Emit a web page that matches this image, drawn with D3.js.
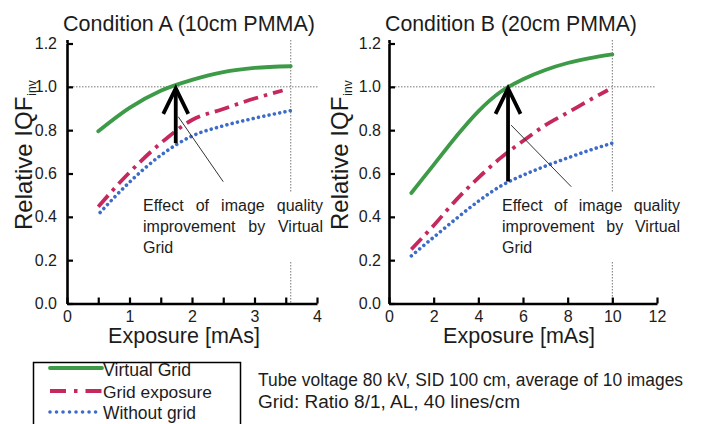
<!DOCTYPE html>
<html>
<head>
<meta charset="utf-8">
<script src="https://cdn.jsdelivr.net/npm/d3@7"></script>
<style>
  body { margin: 0; background: #fff; }
  svg { display: block; }
  text { font-family: "Liberation Sans", Arial, Helvetica, sans-serif; fill: #1c1c1c; }
</style>
</head>
<body>
<svg id="chart" width="701" height="424"></svg>
<script>
// ---- Condition A: 10 cm PMMA ----
const virtualGridExpA  = [0.5, 1.0, 1.5, 2.0, 2.5, 3.0, 3.58];
const virtualGridA     = [0.795, 0.903, 0.982, 1.032, 1.068, 1.087, 1.095];
const gridExposureExpA = [0.5, 1.0, 1.5, 2.0, 2.5, 3.0, 3.45];
const gridExposureA    = [0.447, 0.605, 0.74, 0.847, 0.898, 0.946, 0.983];
const withoutGridExpA  = [0.53, 1.0, 1.5, 2.0, 2.5, 3.0, 3.58];
const withoutGridA     = [0.42, 0.56, 0.684, 0.773, 0.82, 0.855, 0.89];

// ---- Condition B: 20 cm PMMA ----
const virtualGridExpB  = [1, 2, 3, 4, 5, 6, 7, 8, 9, 10];
const virtualGridB     = [0.51, 0.64, 0.77, 0.887, 0.977, 1.035, 1.078, 1.11, 1.133, 1.15];
const gridExposureExpB = [1, 2, 3, 4, 5, 6, 7, 8, 9, 9.8];
const gridExposureB    = [0.25, 0.36, 0.477, 0.58, 0.672, 0.75, 0.823, 0.881, 0.94, 0.985];
const withoutGridExpB  = [1, 2, 3, 4, 5, 6, 7, 8, 9, 10];
const withoutGridB     = [0.22, 0.306, 0.391, 0.472, 0.542, 0.592, 0.634, 0.672, 0.708, 0.74];

// Reference level (IQF of grid exposure at full dose) and the full-dose exposure
const referenceLevel    = 1.0;
const referenceExposure = [3.58, 10];

// Improvement arrows: exposure, start value (without grid), end value (virtual grid)
const arrowExposure = [1.74, 5.33];
const arrowFrom     = [0.74, 0.563];
const arrowTo       = [1.0, 1.0];

// Axis ticks
const yTicks        = [0, 0.2, 0.4, 0.6, 0.8, 1.0, 1.2];
const xTickMarksA   = [0, 0.5, 1, 1.5, 2, 2.5, 3, 3.5, 4];
const xTickLabelsA  = [0, 1, 2, 3, 4];
const xTickMarksB   = [0, 2, 4, 6, 8, 10, 12];
const xTickLabelsB  = [0, 2, 4, 6, 8, 10, 12];

// Texts
const panelTitles  = ["Condition A (10cm PMMA)", "Condition B (20cm PMMA)"];
const seriesNames  = ["Virtual Grid", "Grid exposure", "Without grid"];
const xAxisTitle   = "Exposure [mAs]";
const yAxisTitle   = "Relative IQF";
const yAxisSub     = "inv";
const annotationLines = [["Effect", "of", "image", "quality"], ["improvement", "by", "Virtual"], ["Grid"]];
const noteLines    = ["Tube voltage 80 kV, SID 100 cm, average of 10 images", "Grid: Ratio 8/1, AL, 40 lines/cm"];

const colors = { virtual: "#3d9a47", grid: "#c4285f", none: "#3d6cc8" };

const svg = d3.select("#chart");

// Scale a text element's font size so that it spans the given width
function fitWidth(sel, width) {
  const node = sel.node();
  const fs = parseFloat(sel.attr("font-size"));
  const w = node.getComputedTextLength();
  sel.attr("font-size", (fs * width / w).toFixed(2));
}

const panels = [
  {
    xDomain: [0, 4], xRange: [67, 317], tickMarks: xTickMarksA, tickLabels: xTickLabelsA,
    series: [
      { x: virtualGridExpA, y: virtualGridA, key: "virtual" },
      { x: gridExposureExpA, y: gridExposureA, key: "grid" },
      { x: withoutGridExpA, y: withoutGridA, key: "none" }
    ],
    title: panelTitles[0], titleX: 189, xLabelX: 184, yLabelX: 32, yTickPad: 10,
    refExposure: referenceExposure[0], hLineEnd: 318,
    textX: 143, textW: 180, leader: [[1.78, 0.862], [2.5, 0.562]], arrow: 0
  },
  {
    xDomain: [0, 12], xRange: [389, 657], tickMarks: xTickMarksB, tickLabels: xTickLabelsB,
    series: [
      { x: virtualGridExpB, y: virtualGridB, key: "virtual" },
      { x: gridExposureExpB, y: gridExposureB, key: "grid" },
      { x: withoutGridExpB, y: withoutGridB, key: "none" }
    ],
    title: panelTitles[1], titleX: 511, xLabelX: 519, yLabelX: 348, yTickPad: 8,
    refExposure: referenceExposure[1], hLineEnd: 655,
    textX: 502, textW: 178, leader: [[5.47, 0.823], [8.16, 0.539]], arrow: 1
  }
];

const y = d3.scaleLinear().domain([0, 1.2]).range([303.5, 43.5]);

function seriesStyle(path, key) {
  path.attr("fill", "none").attr("stroke", colors[key]);
  if (key === "virtual") {
    path.attr("stroke-width", 3.8).attr("stroke-linecap", "round");
  } else if (key === "grid") {
    path.attr("stroke-width", 3.8).attr("stroke-dasharray", "15,6,3.5,6");
  } else {
    path.attr("stroke-width", 3.6).attr("stroke-linecap", "round").attr("stroke-dasharray", "0.01,5.4");
  }
}

panels.forEach(p => {
  const x = d3.scaleLinear().domain(p.xDomain).range(p.xRange);
  const g = svg.append("g");

  // Dotted reference lines
  g.append("line")
    .attr("x1", x(0)).attr("x2", p.hLineEnd)
    .attr("y1", y(referenceLevel)).attr("y2", y(referenceLevel))
    .attr("stroke", "#777").attr("stroke-width", 1).attr("stroke-dasharray", "1.5,1.5");
  g.append("line")
    .attr("x1", x(p.refExposure)).attr("x2", x(p.refExposure))
    .attr("y1", 40).attr("y2", y(0))
    .attr("stroke", "#777").attr("stroke-width", 1).attr("stroke-dasharray", "1.5,1.5");

  // Annotation block (white background interrupts the vertical guide)
  g.append("rect").attr("x", p.textX - 3).attr("y", 192)
    .attr("width", p.textW + 6).attr("height", 70).attr("fill", "#fff");

  const lineY = [211, 232, 253];
  annotationLines.forEach((words, i) => {
    const tg = g.append("g");
    const ts = words.map(w => tg.append("text").attr("font-size", 16).attr("y", lineY[i]).text(w));
    const widths = ts.map(t => t.node().getComputedTextLength());
    const total = d3.sum(widths);
    const justify = i < annotationLines.length - 1 && words.length > 1;
    const gap = justify ? (p.textW - total) / (words.length - 1) : 4.5;
    let cx = p.textX;
    ts.forEach((t, j) => { t.attr("x", cx); cx += widths[j] + gap; });
  });

  // Series curves
  p.series.forEach(s => {
    const pts = s.x.map((v, i) => [v, s.y[i]]);
    const line = d3.line().x(d => x(d[0])).y(d => y(d[1])).curve(d3.curveMonotoneX);
    g.append("path").attr("d", line(pts)).call(seriesStyle, s.key);
  });

  // Leader line from arrow to annotation
  g.append("line")
    .attr("x1", x(p.leader[0][0])).attr("y1", y(p.leader[0][1]))
    .attr("x2", x(p.leader[1][0])).attr("y2", y(p.leader[1][1]))
    .attr("stroke", "#333").attr("stroke-width", 1);

  // Improvement arrow
  const ax = x(arrowExposure[p.arrow]);
  const yTop = y(arrowTo[p.arrow]);
  g.append("line")
    .attr("x1", ax).attr("x2", ax)
    .attr("y1", y(arrowFrom[p.arrow])).attr("y2", yTop + 2)
    .attr("stroke", "#000").attr("stroke-width", 3.8);
  g.append("polyline")
    .attr("points", [[ax - 12.5, yTop + 27], [ax, yTop + 1.5], [ax + 12.5, yTop + 27]].map(d => d.join(",")).join(" "))
    .attr("fill", "none").attr("stroke", "#000").attr("stroke-width", 3.8)
    .attr("stroke-linejoin", "miter");

  // Axes
  const xAxis = d3.axisBottom(x).tickValues(p.tickMarks).tickSizeInner(-6).tickSizeOuter(0).tickPadding(7)
    .tickFormat(d => p.tickLabels.includes(d) ? d3.format("d")(d) : "");
  const gx = g.append("g").attr("transform", `translate(0,${y(0)})`).call(xAxis);
  const yAxis = d3.axisLeft(y).tickValues(yTicks).tickSizeInner(-6).tickSizeOuter(0).tickPadding(p.yTickPad)
    .tickFormat(d3.format(".1f"));
  const gy = g.append("g").attr("transform", `translate(${x(0)},0)`).call(yAxis);

  [gx, gy].forEach(a => {
    a.select(".domain").attr("stroke", "#000").attr("stroke-width", 2.6);
    a.selectAll(".tick line").attr("stroke", "#000").attr("stroke-width", 2.2);
    a.selectAll(".tick text").attr("font-size", 16).attr("fill", "#1a1a1a")
      .attr("font-family", "'Liberation Sans', Arial, sans-serif");
  });
  // extend the y axis slightly above the top tick
  g.append("line").attr("x1", x(0) + 0.5).attr("x2", x(0) + 0.5)
    .attr("y1", 40).attr("y2", y(1.2)).attr("stroke", "#000").attr("stroke-width", 2.6);

  // Titles
  const t = g.append("text").attr("x", p.titleX).attr("y", 31).attr("text-anchor", "middle")
    .attr("font-size", 21).text(p.title);
  fitWidth(t, 252);

  const xl = g.append("text").attr("x", p.xLabelX).attr("y", 343).attr("text-anchor", "middle")
    .attr("font-size", 21).text(xAxisTitle);
  fitWidth(xl, 152);

  const yl = g.append("text")
    .attr("transform", `translate(${p.yLabelX},230) rotate(-90)`)
    .attr("font-size", 24);
  yl.append("tspan").text(yAxisTitle);
  yl.append("tspan").attr("font-size", 12).attr("dy", 4).attr("dx", 1).text(yAxisSub);
});

// Legend
const legend = svg.append("g");
legend.append("rect").attr("x", 33.5).attr("y", 362.5).attr("width", 207).attr("height", 80)
  .attr("fill", "none").attr("stroke", "#000").attr("stroke-width", 1.5);
const legendKeys = ["virtual", "grid", "none"];
const legendLineY = [368, 391, 412];
const legendTextY = [376, 398, 419];
const legendTextW = [88, 109, 93];
legendKeys.forEach((k, i) => {
  legend.append("path")
    .attr("d", `M50,${legendLineY[i]}H102`)
    .call(seriesStyle, k)
    .attr("stroke-dasharray", k === "grid" ? "16,8,3.5,8" : (k === "none" ? "0.01,6.5" : null));
  const tx = legend.append("text").attr("x", 103).attr("y", legendTextY[i]).attr("font-size", 17).text(seriesNames[i]);
  fitWidth(tx, legendTextW[i]);
});

// Acquisition note
const noteY = [386, 408];
const noteW = [425, 262];
noteLines.forEach((s, i) => {
  svg.append("text").attr("x", 258).attr("y", noteY[i]).attr("font-size", 18)
    .attr("textLength", noteW[i]).attr("lengthAdjust", "spacingAndGlyphs").text(s);
});
</script>
</body>
</html>
